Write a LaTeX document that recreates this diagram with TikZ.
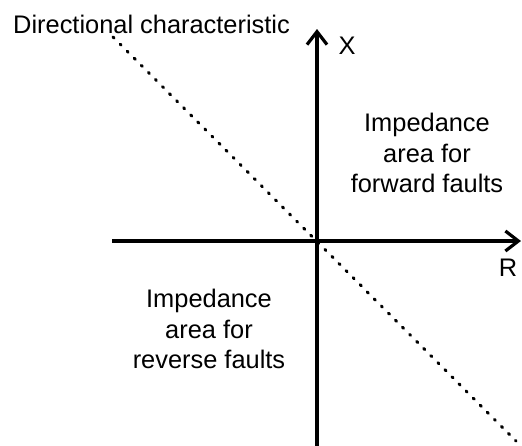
\documentclass[tikz,border=0pt]{standalone}
\usepackage{fontspec}
\setmainfont{Liberation Sans}
\usetikzlibrary{arrows.meta}
\begin{document}
\begin{tikzpicture}[x=1pt,y=-1pt,
  lbl/.style={font=\fontsize{25.4}{30.5}\selectfont, inner sep=0pt, align=center},
  axis/.style={line width=3.2pt, -{Straight Barb[length=13pt,width=20pt]}},
  dirline/.style={line width=3pt, line cap=round, dash pattern=on 1.5pt off 8.5pt}]
\useasboundingbox (0,0) rectangle (522,445);
\coordinate (O) at (317,241);
\coordinate (xl) at (112,241);
\coordinate (xr) at (521,241);
\coordinate (yb) at (317,446);
\coordinate (yt) at (317,29);
\coordinate (d1) at (113,37);
\coordinate (d2) at (516,441);
\draw[dirline] (d1) -- (d2);
\draw[axis] (xl) -- (xr);
\draw[axis] (yb) -- (yt);
\node[lbl, anchor=base west] (title) at (13,33) {Directional characteristic};
\node[lbl] (X) at (347,46) {X};
\node[lbl] (R) at (508,268) {R};
\node[lbl] (fwd) at (427,153) {Impedance\\area for\\forward faults};
\node[lbl] (rev) at (209,329) {Impedance\\area for\\reverse faults};
\end{tikzpicture}
\end{document}
